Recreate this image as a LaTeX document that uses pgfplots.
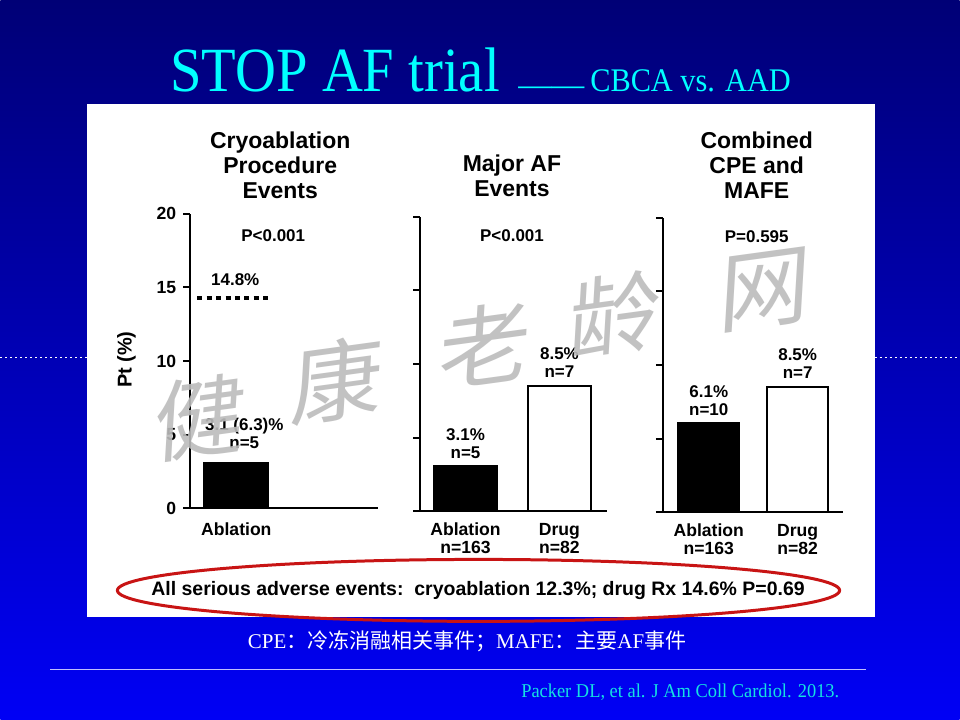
\documentclass[border=0pt]{standalone}
\usepackage{pgfplots}
\pgfplotsset{compat=1.18}
\usepackage{fontspec}
\setmainfont{Liberation Sans}
\newfontfamily\serif{Liberation Serif}
\newfontfamily\cjk{Noto Sans CJK SC}
\definecolor{navy}{RGB}{0,0,118}
\definecolor{brightblue}{RGB}{0,0,245}
\definecolor{titlecyan}{RGB}{0,255,255}
\definecolor{citecyan}{RGB}{20,225,225}
\definecolor{ellred}{RGB}{200,20,20}
\definecolor{wm}{RGB}{188,188,188}
\pgfplotsset{
  panel/.style={
    scale only axis,
    anchor=south west,
    height=147.5pt,
    ymin=0, ymax=20,
    axis x line=bottom, axis y line=left,
    axis line style={-, line width=1pt, black},
    ytick={0,5,10,15,20},
    tick align=outside,
    major tick length=3.5pt,
    ytick style={line width=1pt, black},
    xtick style={draw=none},
    clip=false,
    /pgf/number format/assume math mode=true,
    tick label style={font=\fontsize{8.8}{9}\selectfont\bfseries},
    xticklabel style={align=center, anchor=base, yshift=-17.5pt},
  },
}
\tikzset{barlab/.style={anchor=south, inner sep=0pt, align=center, font=\fontsize{8.5}{9}\selectfont\bfseries}}
\newcommand\watermark{%
  \begin{scope}[x=0.5pt,y=-0.5pt,yshift=360pt]
    \foreach \c/\px/\py in {健/200/418,康/337/380,老/485/345,龄/615/315,网/765/290}{
      \node[text=wm, opacity=0.9, font=\cjk\fontsize{45}{45}\selectfont, xslant=0.2, rotate=8] at (\px,\py) {\c};
    }
  \end{scope}}
\begin{document}
\begin{tikzpicture}
\begin{scope}[x=0.5pt,y=-0.5pt,yshift=360pt]
  \shade[top color=navy, bottom color=brightblue] (0,0) rectangle (960,720);
  \draw[white, line width=0.5pt, dash pattern=on 1pt off 1.5pt] (0,358) -- (960,358);
  \fill[white] (87,104) rectangle (875,618);
  % slide title
  \node[anchor=base, text=titlecyan, inner sep=0pt, font=\serif\fontsize{31.5}{32}\selectfont] at (335,92) {\scalebox{0.9}[1]{STOP AF trial}};
  \node[anchor=base west, text=titlecyan, inner sep=0pt, font=\serif\fontsize{16.5}{17}\selectfont] at (518,92) {\raisebox{-0.12em}{——}};
  \node[anchor=base west, text=titlecyan, inner sep=0pt, font=\serif\fontsize{16.5}{17}\selectfont] at (590,92) {\scalebox{0.92}[1]{CBCA vs. AAD}};
  % panel titles
  \node[align=center, font=\fontsize{11.5}{12.5}\selectfont\bfseries] at (280,165) {Cryoablation\\Procedure\\Events};
  \node[align=center, font=\fontsize{11.5}{12.5}\selectfont\bfseries] at (512,176) {Major AF\\Events};
  \node[align=center, font=\fontsize{11.5}{12.5}\selectfont\bfseries] at (757,165) {Combined\\CPE and\\MAFE};
  \node[font=\fontsize{8.5}{9}\selectfont\bfseries] at (273,236) {P<0.001};
  \node[font=\fontsize{8.5}{9}\selectfont\bfseries] at (512,236) {P<0.001};
  \node[font=\fontsize{8.5}{9}\selectfont\bfseries] at (757,237) {P=0.595};
  \node[font=\fontsize{8.5}{9}\selectfont\bfseries] at (235,280) {14.8\%};
  \node[rotate=90, font=\fontsize{10}{10}\selectfont\bfseries] at (126,360) {Pt (\%)};
  % bottom
  \draw[ellred, line width=1.5pt] (478.5,591) ellipse [x radius=361.5, y radius=31];
  \node[font=\fontsize{9.75}{10}\selectfont\bfseries] at (478,591) {All serious adverse events:\ \ cryoablation 12.3\%; drug Rx 14.6\% P=0.69};
  \node[text=white, font=\fontsize{10.5}{11}\selectfont] at (467,642) {{\serif CPE}{\cjk ：冷冻消融相关事件；}{\serif MAFE}{\cjk ：主要}{\serif AF}{\cjk 事件}};
  \draw[white!75!blue, line width=0.6pt] (50,670) -- (866,670);
  \node[anchor=base east, text=citecyan, inner sep=0pt, font=\serif\fontsize{9.8}{10}\selectfont] at (840,698) {\scalebox{0.94}[1]{Packer DL, et al. J Am Coll Cardiol. 2013.}};
\end{scope}

% Panel 1
\begin{axis}[panel, at={(95pt,105.5pt)}, width=94pt, xmin=-0.49, xmax=1.51,
  xtick={0}, xticklabels={Ablation}, yticklabels={0,5,10,15,20},
  xticklabel style={yshift=7.5pt}]
  \addplot[ybar, bar width=0.68, fill=black, draw=black, line width=1pt] coordinates {(0,3.1)};
  \addplot[line width=2pt, dash pattern=on 2.5pt off 2.2pt] coordinates {(-0.415,14.3) (0.34,14.3)};
  \node[barlab, yshift=7pt, xshift=4pt] at (axis cs:0,3.1) {3.1 (6.3)\%\\n=5};
\end{axis}
% Panel 2
\begin{axis}[panel, at={(210pt,104pt)}, width=93.5pt, xmin=-0.484, xmax=1.505,
  xtick={0,1}, xticklabels={Ablation\\n=163, Drug\\n=82}, yticklabels={}]
  \addplot[ybar, bar width=0.68, fill=black, draw=black, line width=1pt] coordinates {(0,3.1)};
  \addplot[ybar, bar width=0.68, fill=white, draw=black, line width=1pt] coordinates {(1,8.5)};
  \node[barlab, yshift=3.5pt] at (axis cs:0,3.1) {3.1\%\\n=5};
  \node[barlab, yshift=4pt] at (axis cs:1,8.5) {8.5\%\\n=7};
\end{axis}
% Panel 3
\begin{axis}[panel, at={(331.5pt,103.5pt)}, width=90pt, xmin=-0.517, xmax=1.506,
  xtick={0,1}, xticklabels={Ablation\\n=163, Drug\\n=82}, yticklabels={}]
  \addplot[ybar, bar width=0.685, fill=black, draw=black, line width=1pt] coordinates {(0,6.1)};
  \addplot[ybar, bar width=0.685, fill=white, draw=black, line width=1pt] coordinates {(1,8.5)};
  \node[barlab, yshift=3.5pt] at (axis cs:0,6.1) {6.1\%\\n=10};
  \node[barlab, yshift=4pt] at (axis cs:1,8.5) {8.5\%\\n=7};
\end{axis}
\watermark
\end{tikzpicture}
\end{document}
